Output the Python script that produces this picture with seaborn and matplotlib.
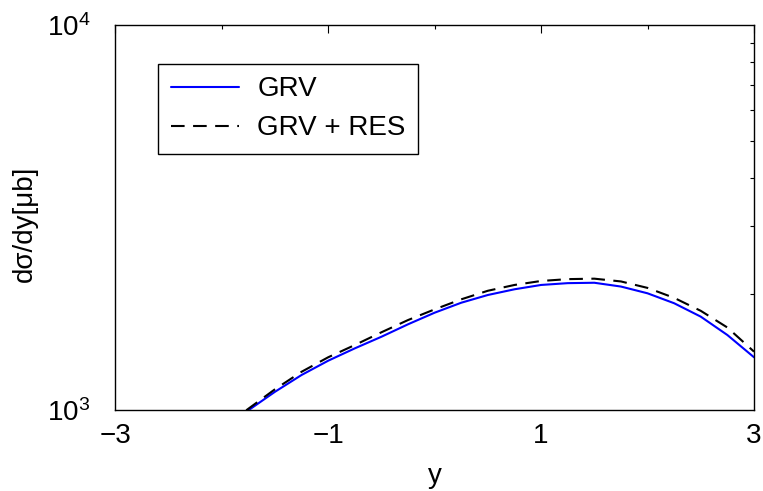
import matplotlib
matplotlib.use("Agg")
import matplotlib.pyplot as plt
import matplotlib.ticker as mticker
import numpy as np
import pandas as pd
import seaborn as sns

# ---- data ----
x_grv = [-1.75, -1.5, -1.25, -1.0, -0.75, -0.5, -0.25, 0.0, 0.25, 0.5, 0.75,
         1.0, 1.25, 1.5, 1.75, 2.0, 2.25, 2.5, 2.75, 3.0]
grv = [1000, 1117, 1235, 1345, 1448, 1552, 1672, 1792, 1902, 1992, 2061,
       2115, 2138, 2143, 2095, 2012, 1896, 1750, 1568, 1373]
x_res = [-1.77, -1.5, -1.25, -1.0, -0.75, -0.5, -0.25, 0.0, 0.25, 0.5, 0.75,
         1.0, 1.25, 1.5, 1.75, 2.0, 2.25, 2.5, 2.75, 3.0]
grv_res = [1000, 1134, 1259, 1373, 1477, 1594, 1715, 1828, 1941, 2043, 2115,
           2166, 2190, 2196, 2160, 2078, 1958, 1812, 1640, 1420]
labels = ["GRV", "GRV + RES"]
xticks = [-3, -1, 1, 3]
xticklabels = ["\u22123", "\u22121", "1", "3"]
xminor = [-2, 0, 2]

df = pd.concat([
    pd.DataFrame({"x": x_grv, "v": grv, "s": labels[0]}),
    pd.DataFrame({"x": x_res, "v": grv_res, "s": labels[1]}),
])

sns.set_theme(style="white")
plt.rcParams["font.family"] = ["Liberation Sans", "DejaVu Sans"]
plt.rcParams["mathtext.default"] = "regular"
plt.rcParams["lines.scale_dashes"] = False
plt.rcParams["text.color"] = "black"
plt.rcParams["axes.labelcolor"] = "black"

FS = 20
W, H = 763, 491
fig = plt.figure(figsize=(W / 100, H / 100), dpi=100)
fig.patch.set_facecolor("white")
L, R, T, B = 115.3, 754.0, 25.0, 410.3
ax = fig.add_axes([L / W, 1 - B / H, (R - L) / W, (B - T) / H])

sns.lineplot(data=df, x="x", y="v", hue="s", style="s",
             palette={labels[0]: "#0000ff", labels[1]: "black"},
             dashes={labels[0]: "", labels[1]: (9.8, 6.1)},
             linewidth=1.5, ax=ax, sort=False, estimator=None)

ax.set_yscale("log")
ax.set_xlim(-3, 3)
ax.set_ylim(1e3, 1e4)
ax.set_xticks(xticks)
ax.set_xticklabels(xticklabels)
ax.set_xticks(xminor, minor=True)
ax.yaxis.set_major_locator(mticker.FixedLocator([1e3, 1e4]))
ax.yaxis.set_major_formatter(mticker.LogFormatterSciNotation())
ax.yaxis.set_minor_locator(mticker.LogLocator(base=10, subs=np.arange(2, 10)))
ax.yaxis.set_minor_formatter(mticker.NullFormatter())

ax.tick_params(which="both", direction="in", top=True, right=True,
               colors="black", labelsize=FS, width=0.8)
ax.tick_params(axis="x", which="major", length=5.5, pad=9.5)
ax.tick_params(axis="x", which="minor", length=3)
ax.tick_params(axis="y", which="major", length=0, pad=18)
ax.tick_params(axis="y", which="minor", length=2.7)

for sp in ax.spines.values():
    sp.set_color("black")
    sp.set_linewidth(1.0)

ax.set_xlabel("y", fontsize=FS, labelpad=10, color="black")
ax.set_ylabel("d\u03c3/dy[\u03bcb]", fontsize=FS, color="black")
ax.yaxis.set_label_coords((38 - L) / (R - L), (B - 224) / (B - T))

leg = ax.legend(loc="upper left", bbox_to_anchor=((158 - L) / (R - L), (B - 64) / (B - T)),
                borderaxespad=0, fontsize=FS, frameon=True, fancybox=False,
                edgecolor="black", framealpha=1, handlelength=2.45,
                handletextpad=0.67, labelspacing=0.46, borderpad=0.45, title=None)
leg.get_frame().set_linewidth(1.0)
for t in leg.get_texts():
    t.set_color("black")

fig.savefig("out.png", dpi=100, facecolor="white")
